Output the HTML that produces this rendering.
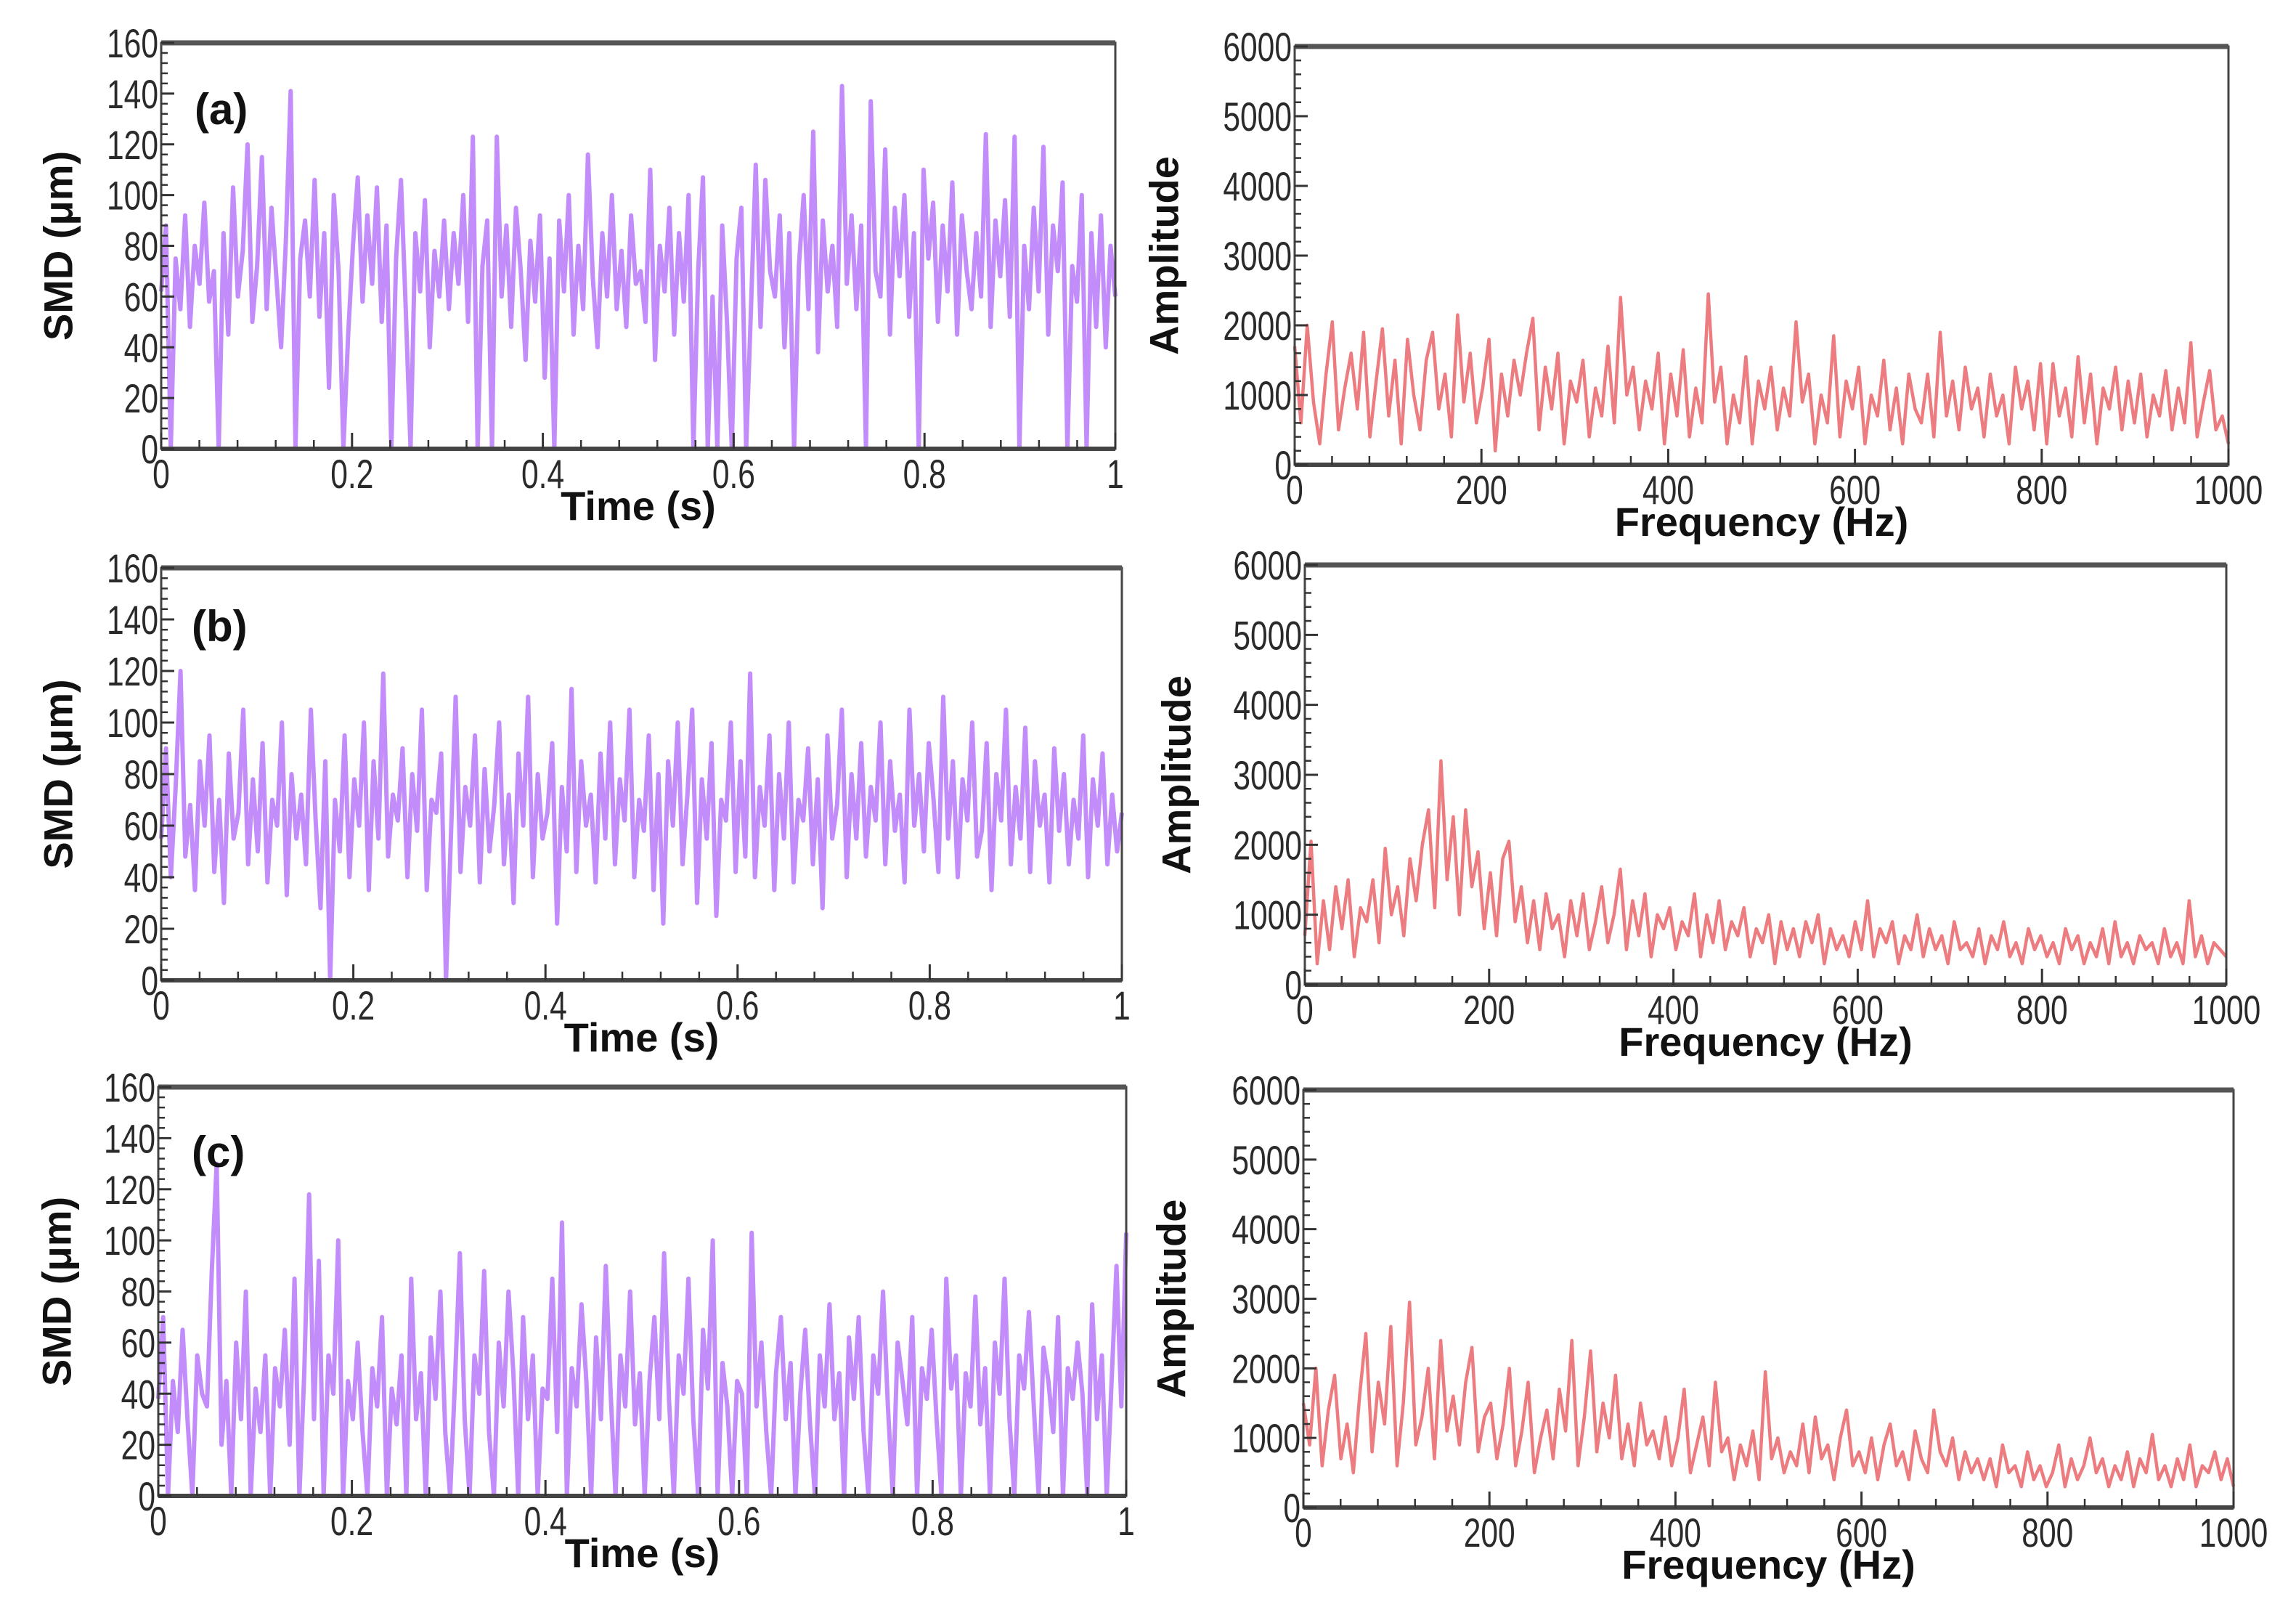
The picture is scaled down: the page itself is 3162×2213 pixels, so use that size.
<!DOCTYPE html>
<html><head><meta charset="utf-8"><style>
html,body{margin:0;padding:0;background:#fff;}
svg{display:block;}
text{font-family:"Liberation Sans",sans-serif;}
.tl{font-size:56px;fill:#2a2a2a;}
.at{font-family:"Liberation Sans",sans-serif;font-weight:bold;font-size:56px;fill:#111;}
.pl{font-family:"Liberation Sans",sans-serif;font-weight:bold;font-size:60px;fill:#111;}
</style></head><body>
<svg id="fig" width="3162" height="2213" viewBox="0 0 3162 2213" xmlns="http://www.w3.org/2000/svg"></svg>
<script>
const smdA = [62,88,0,75,55,92,48,80,65,97, 58,70,0,85,45,103,60,78,120,50, 72,115,55,95,68,40,82,141,0,75, 90,60,106,52,85,24,100,70,0,45, 80,107,58,92,65,103,50,88,0,75, 106,55,0,85,62,98,40,78,60,90, 55,85,65,100,50,123,0,72,90,0, 123,60,88,48,95,70,35,82,58,92, 28,75,0,90,62,100,45,80,55,116, 68,40,85,60,100,55,78,48,92,65, 70,50,110,35,80,62,95,45,85,58, 100,0,70,107,0,60,0,88,50,0, 75,95,0,55,112,48,106,70,60,92, 40,85,0,72,100,55,125,38,90,62, 80,48,143,65,92,55,88,0,137,70, 60,118,45,95,68,100,52,85,0,110, 75,97,50,88,62,105,45,92,70,55, 85,60,124,48,90,68,98,52,123,0, 80,55,95,62,119,45,88,70,105,0, 72,58,100,0,85,48,92,40,80,60];
const smdB = [55,90,40,75,120,48,68,35,85,60, 95,42,70,30,88,55,65,105,45,78, 50,92,38,70,60,100,33,80,55,72, 45,105,62,28,85,0,70,50,95,40, 78,60,100,35,85,55,119,48,72,62, 90,40,80,58,105,35,70,65,88,0, 55,110,42,75,60,95,38,82,50,68, 100,45,72,30,88,60,110,40,80,55, 65,92,22,75,50,113,42,85,60,72, 38,88,55,100,45,78,62,105,40,70, 58,95,35,80,22,85,60,100,45,72, 105,30,78,55,92,25,70,62,100,42, 85,48,119,40,75,60,95,35,80,55, 100,38,70,62,90,45,78,28,95,55, 68,105,40,80,55,92,48,75,62,100, 45,85,58,72,38,105,60,80,50,92, 70,42,110,55,85,40,78,62,100,48, 58,92,35,80,62,105,45,75,55,98, 42,85,60,72,38,90,58,80,45,70, 55,95,40,78,60,88,45,72,50,65];
const smdC = [38,70,0,45,25,65,30,0,55,40, 35,88,130,20,45,0,60,30,80,0, 42,25,55,0,50,35,65,20,85,0, 48,118,30,92,0,55,40,100,0,45, 30,60,25,0,50,35,70,0,42,28, 55,0,85,30,48,0,62,38,80,25, 0,45,95,30,0,55,40,88,25,0, 60,35,80,48,0,70,30,55,0,42, 38,85,25,107,0,50,35,75,45,0, 62,30,90,40,0,55,35,80,28,48, 0,45,70,30,95,38,0,55,40,85, 30,0,65,42,100,0,52,35,0,45, 40,0,103,35,60,25,0,48,70,30, 52,0,40,65,28,0,55,35,75,30, 48,0,62,38,70,25,0,55,40,80, 35,0,60,45,28,70,0,50,38,65, 30,0,85,42,55,0,48,35,78,28, 50,0,60,40,85,30,0,55,42,72, 35,0,58,45,25,70,0,50,38,60, 40,0,75,30,55,0,45,90,35,103];
const ampA = [1700,600,2000,900,300,1300,2050,500,1100,1600, 800,1900,400,1200,1950,700,1500,300,1800,1000, 500,1500,1900,800,1300,400,2150,900,1600,600, 1100,1800,200,1300,700,1500,1000,1600,2100,500, 1400,800,1600,300,1200,900,1500,400,1100,700, 1700,600,2400,1000,1400,500,1200,800,1600,300, 1300,700,1650,400,1100,600,2450,900,1400,300, 1000,600,1550,300,1200,800,1400,500,1100,700, 2050,900,1300,300,1000,600,1850,400,1200,800, 1400,300,1000,700,1500,500,1100,300,1300,800, 600,1300,400,1900,700,1200,500,1400,800,1100, 400,1300,700,1000,300,1400,800,1200,500,1450, 300,1450,700,1100,400,1550,600,1300,300,1100, 800,1400,500,1200,600,1300,400,1000,700,1350, 500,1100,600,1750,400,900,1350,500,700,300];
const ampB = [700,2050,300,1200,500,1400,800,1500,400,1100, 900,1500,600,1950,1000,1400,700,1800,1200,2000, 2500,1100,3200,1500,2400,1000,2500,1400,1900,800, 1600,700,1800,2050,900,1400,600,1200,500,1300, 800,1000,400,1200,700,1300,500,900,1400,600, 1000,1650,500,1200,700,1300,400,1000,800,1100, 500,900,700,1300,400,1000,600,1200,500,900, 700,1100,400,800,600,1000,300,900,500,800, 400,900,600,1000,300,800,500,700,400,900, 500,1200,400,800,600,900,300,700,500,1000, 400,800,500,700,300,900,500,600,400,800, 300,700,500,900,400,600,300,800,500,700, 400,600,300,800,500,700,300,600,400,800, 300,900,400,600,300,700,500,600,300,800, 400,600,300,1200,400,700,300,600,500,400];
const ampC = [1500,900,2000,600,1400,1900,700,1200,500,1600, 2500,800,1800,1200,2600,600,1500,2950,900,1300, 2000,700,2400,1100,1600,900,1800,2300,800,1300, 1500,700,1200,2000,600,1100,1800,500,1000,1400, 700,1700,1100,2400,600,1300,2250,800,1500,1000, 1900,700,1200,600,1500,900,1100,700,1300,600, 1000,1700,500,900,1300,600,1800,800,1000,400, 900,600,1100,400,1950,700,1000,500,800,600, 1200,500,1300,700,900,400,1000,1400,600,800, 500,1000,400,900,1200,600,800,400,1100,700, 500,1400,800,600,1000,400,800,500,700,400, 700,300,900,500,600,300,800,400,600,300, 500,900,300,700,400,600,1000,500,700,300, 600,400,800,300,700,500,1050,400,600,300, 700,400,900,300,600,500,800,400,700,300];
const timeTicks = ["0","0.2","0.4","0.6","0.8","1"];
const smdTicks = ["0","20","40","60","80","100","120","140","160"];
const freqTicks = ["0","200","400","600","800","1000"];
const ampTicks = ["0","1000","2000","3000","4000","5000","6000"];

const NS="http://www.w3.org/2000/svg";
const svg=document.getElementById('fig');
function mk(tag,attrs,parent){const e=document.createElementNS(NS,tag);for(const k in attrs)e.setAttribute(k,attrs[k]);(parent||svg).appendChild(e);return e;}

const panels=[
 {id:'a-smd',x0:222,x1:1536,y0:59,y1:618,xmax:1,ymax:160,data:smdA,xt:timeTicks,yt:smdTicks,xminor:5,yminor:5,color:'#8f2ef5',w:6,op:0.55,xt_title:'Time (s)',yt_title:'SMD (μm)',ytx:80,label:'(a)',lx:268,ly:171},
 {id:'a-fft',x0:1783,x1:3069,y0:64,y1:640,xmax:1000,ymax:6000,data:ampA,xt:freqTicks,yt:ampTicks,xminor:5,yminor:5,color:'#e0252b',w:4.5,op:0.6,xt_title:'Frequency (Hz)',yt_title:'Amplitude',ytx:1603},
 {id:'b-smd',x0:222,x1:1545,y0:782,y1:1350,xmax:1,ymax:160,data:smdB,xt:timeTicks,yt:smdTicks,xminor:5,yminor:5,color:'#8f2ef5',w:6,op:0.55,xt_title:'Time (s)',yt_title:'SMD (μm)',ytx:80,label:'(b)',lx:264,ly:883},
 {id:'b-fft',x0:1797,x1:3066,y0:778,y1:1356,xmax:1000,ymax:6000,data:ampB,xt:freqTicks,yt:ampTicks,xminor:5,yminor:5,color:'#e0252b',w:4.5,op:0.6,xt_title:'Frequency (Hz)',yt_title:'Amplitude',ytx:1620},
 {id:'c-smd',x0:218,x1:1551,y0:1497,y1:2060,xmax:1,ymax:160,data:smdC,xt:timeTicks,yt:smdTicks,xminor:5,yminor:5,color:'#8f2ef5',w:6,op:0.55,xt_title:'Time (s)',yt_title:'SMD (μm)',ytx:78,label:'(c)',lx:264,ly:1607},
 {id:'c-fft',x0:1795,x1:3076,y0:1501,y1:2076,xmax:1000,ymax:6000,data:ampC,xt:freqTicks,yt:ampTicks,xminor:5,yminor:5,color:'#e0252b',w:4.5,op:0.6,xt_title:'Frequency (Hz)',yt_title:'Amplitude',ytx:1613}
];

panels.forEach(p=>{
  const g=mk('g',{});
  
  
  const sx=v=>p.x0+(v/p.xmax)*(p.x1-p.x0);
  const sy=v=>p.y1-(v/p.ymax)*(p.y1-p.y0);
  const n=p.data.length;
  const pts=p.data.map((v,i)=>sx(i/(n-1)*p.xmax).toFixed(1)+','+sy(v).toFixed(1)).join(' ');
  const line=mk('polyline',{points:pts,fill:'none',stroke:p.color,'stroke-width':p.w,'stroke-opacity':p.op,'stroke-linejoin':'round'},g);
  
  
  const fr=mk('rect',{x:p.x0,y:p.y0,width:p.x1-p.x0,height:p.y1-p.y0,fill:'none',stroke:'#444','stroke-width':3},g);
  
  
  mk('line',{x1:p.x0,x2:p.x1,y1:p.y0,y2:p.y0,stroke:'#555','stroke-width':7},g);
  mk('line',{x1:p.x0,x2:p.x1,y1:p.y1,y2:p.y1,stroke:'#444','stroke-width':6},g);
  const nx=p.xt.length-1;
  for(let i=0;i<=nx;i++){
    const v=i/nx*p.xmax, x=sx(v);
    mk('line',{x1:x,x2:x,y1:p.y1,y2:p.y1-22,stroke:'#333','stroke-width':3},g);
    if(i<nx){for(let k=1;k<p.xminor;k++){const xm=sx(v+k/p.xminor*p.xmax/nx);mk('line',{x1:xm,x2:xm,y1:p.y1,y2:p.y1-12,stroke:'#333','stroke-width':2.5},g);}}
    const t=mk('text',{x:0,y:0,'text-anchor':'middle',class:'tl',transform:'translate('+x+','+(p.y1+54)+') scale(0.76,1)'},g);
    t.textContent=p.xt[i];
    
    
  }
  const ny=p.yt.length-1;
  for(let i=0;i<=ny;i++){
    const v=i/ny*p.ymax, y=sy(v);
    mk('line',{x1:p.x0,x2:p.x0+18,y1:y,y2:y,stroke:'#333','stroke-width':3},g);
    if(i<ny){for(let k=1;k<p.yminor;k++){const ym=sy(v+k/p.yminor*p.ymax/ny);mk('line',{x1:p.x0,x2:p.x0+9,y1:ym,y2:ym,stroke:'#333','stroke-width':2.5},g);}}
    const t=mk('text',{x:0,y:0,'text-anchor':'end',class:'tl',transform:'translate('+(p.x0-4)+','+(y+20)+') scale(0.76,1)'},g);
    t.textContent=p.yt[i];
    
    
  }
  const xt=mk('text',{x:(p.x0+p.x1)/2,y:p.y1+98,'text-anchor':'middle',class:'at'},g);
  xt.textContent=p.xt_title;
  
  
  const cy=(p.y0+p.y1)/2;
  const yt=mk('text',{x:p.ytx,y:cy,'text-anchor':'middle',class:'at',transform:'rotate(-90 '+p.ytx+' '+cy+')','dominant-baseline':'central'},g);
  yt.textContent=p.yt_title;
  
  
  if(p.label){
    const pl=mk('text',{x:p.lx,y:p.ly,class:'pl'},g);
    pl.textContent=p.label;
    
    
  }
});
</script>
</body></html>
